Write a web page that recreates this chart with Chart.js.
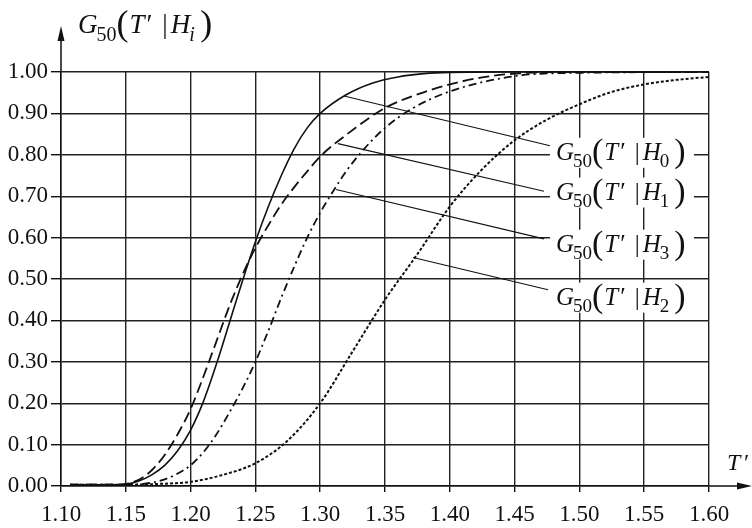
<!DOCTYPE html>
<html>
<head>
<meta charset="utf-8">
<script src="https://cdn.jsdelivr.net/npm/chart.js@4.4.0/dist/chart.umd.min.js"></script>
<style>
  html, body { margin: 0; padding: 0; background: #fff; }
</style>
</head>
<body>
<canvas id="chart" width="752" height="528"></canvas>
<script>
// G50(T'|H) curves for each hypothesis
const tH0 = [1.107, 1.14, 1.15, 1.16, 1.17, 1.18, 1.19, 1.20, 1.21, 1.22, 1.23, 1.24, 1.25, 1.26, 1.27, 1.28, 1.29, 1.30, 1.32, 1.34, 1.36, 1.38, 1.40, 1.45, 1.60];
const gH0 = [0.003, 0.003, 0.004, 0.012, 0.027, 0.05, 0.085, 0.135, 0.205, 0.295, 0.395, 0.495, 0.59, 0.675, 0.75, 0.815, 0.865, 0.90, 0.945, 0.973, 0.988, 0.996, 0.999, 1.0, 1.0];

const tH1 = [1.107, 1.14, 1.15, 1.16, 1.17, 1.18, 1.19, 1.20, 1.21, 1.22, 1.23, 1.24, 1.25, 1.26, 1.27, 1.28, 1.29, 1.30, 1.32, 1.35, 1.375, 1.40, 1.425, 1.45, 1.50, 1.60];
const gH1 = [0.003, 0.003, 0.005, 0.015, 0.038, 0.075, 0.125, 0.186, 0.265, 0.35, 0.435, 0.51, 0.575, 0.63, 0.68, 0.722, 0.76, 0.796, 0.848, 0.913, 0.946, 0.97, 0.987, 0.996, 1.0, 1.0];

const tH3 = [1.107, 1.15, 1.16, 1.17, 1.18, 1.19, 1.20, 1.21, 1.22, 1.23, 1.24, 1.25, 1.26, 1.27, 1.28, 1.29, 1.30, 1.31, 1.32, 1.33, 1.34, 1.35, 1.37, 1.40, 1.45, 1.50, 1.60];
const gH3 = [0.003, 0.003, 0.004, 0.008, 0.016, 0.03, 0.05, 0.082, 0.125, 0.178, 0.235, 0.30, 0.375, 0.455, 0.53, 0.60, 0.66, 0.712, 0.76, 0.80, 0.835, 0.865, 0.91, 0.953, 0.99, 0.998, 1.0];

const tH2 = [1.107, 1.15, 1.175, 1.20, 1.225, 1.25, 1.275, 1.30, 1.325, 1.35, 1.375, 1.40, 1.425, 1.45, 1.475, 1.50, 1.525, 1.55, 1.575, 1.60];
const gH2 = [0.003, 0.003, 0.005, 0.01, 0.027, 0.055, 0.11, 0.20, 0.325, 0.45, 0.56, 0.675, 0.765, 0.835, 0.885, 0.922, 0.952, 0.97, 0.981, 0.988];

const xTicks = [1.10, 1.15, 1.20, 1.25, 1.30, 1.35, 1.40, 1.45, 1.50, 1.55, 1.60];
const yTicks = [0, 0.1, 0.2, 0.3, 0.4, 0.5, 0.6, 0.7, 0.8, 0.9, 1.0];

// callouts: subscript, point on curve, end of leader, text origin (data units)
const callouts = [
  { sub: '0', from: [1.3184, 0.942], to: [1.4773, 0.822], at: [1.4819, 0.788] },
  { sub: '1', from: [1.3137, 0.827], to: [1.4727, 0.712], at: [1.4819, 0.692] },
  { sub: '3', from: [1.3122, 0.716], to: [1.4727, 0.597], at: [1.4819, 0.566] },
  { sub: '2', from: [1.3716, 0.552], to: [1.4758, 0.474], at: [1.4819, 0.438] }
];

const serif = "'Liberation Serif', 'Times New Roman', serif";
const ink = '#111';

const pts = (xs, ys) => xs.map((x, i) => ({ x: x, y: ys[i] }));

function curve(xs, ys, dash, width) {
  return {
    data: pts(xs, ys),
    borderColor: ink,
    borderWidth: width,
    borderDash: dash,
    pointRadius: 0,
    fill: false,
    cubicInterpolationMode: 'monotone',
    clip: false
  };
}

// G50(T'|H_sub) with italic letters, big parentheses
function drawG(ctx, x0, base, sub, s, italicSub) {
  let x = x0;
  const put = (txt, font, dy, gap) => {
    x += gap;
    ctx.font = font;
    ctx.fillText(txt, x, base + dy);
    x += ctx.measureText(txt).width;
  };
  const it = `italic ${s}px ${serif}`;
  const up = `${s}px ${serif}`;
  const ss = Math.round(s * 0.74);
  const par = `${Math.round(s * 1.35)}px ${serif}`;
  put('G', it, 0, 0);
  put('50', `${ss}px ${serif}`, s * 0.3, -1);
  put('(', par, s * 0.08, 0);
  put('T', it, 0, 1);
  put('\u2032', up, 0, 2);
  put('|', up, 0, s * 0.36);
  put('H', it, 0, s * 0.12);
  put(sub, italicSub ? `italic ${ss}px ${serif}` : `${ss}px ${serif}`, s * 0.3, -1);
  put(')', par, s * 0.08, s * 0.2);
}

const decorations = {
  id: 'decorations',
  afterDatasetsDraw(chart) {
    const ctx = chart.ctx;
    const xs = chart.scales.x, ys = chart.scales.y;
    const area = chart.chartArea;
    ctx.save();
    ctx.fillStyle = ink;
    ctx.strokeStyle = ink;

    // axis arrows
    ctx.lineWidth = 1.5;
    ctx.beginPath();
    ctx.moveTo(area.left, area.top);
    ctx.lineTo(area.left, 34);
    ctx.moveTo(area.right, area.bottom);
    ctx.lineTo(742, area.bottom);
    ctx.stroke();
    ctx.beginPath();
    ctx.moveTo(area.left, 26);
    ctx.lineTo(area.left - 3.5, 41);
    ctx.lineTo(area.left + 3.5, 41);
    ctx.closePath();
    ctx.fill();
    ctx.beginPath();
    ctx.moveTo(752, area.bottom);
    ctx.lineTo(737, area.bottom - 3.5);
    ctx.lineTo(737, area.bottom + 3.5);
    ctx.closePath();
    ctx.fill();

    // axis names
    ctx.textBaseline = 'alphabetic';
    drawG(ctx, 78, 33, 'i', 27, true);
    ctx.font = `italic 24px ${serif}`;
    ctx.fillText('T', 727, 470);
    ctx.font = `24px ${serif}`;
    ctx.fillText('\u2032', 744, 470);

    // leader lines and labels
    ctx.lineWidth = 1.1;
    callouts.forEach(c => {
      ctx.beginPath();
      ctx.moveTo(xs.getPixelForValue(c.from[0]), ys.getPixelForValue(c.from[1]));
      ctx.lineTo(xs.getPixelForValue(c.to[0]), ys.getPixelForValue(c.to[1]));
      ctx.stroke();
      const tx = xs.getPixelForValue(c.at[0]);
      const ty = ys.getPixelForValue(c.at[1]);
      ctx.fillStyle = '#fff';
      ctx.fillRect(tx - 6, ty - 22, 144, 30);
      ctx.fillStyle = ink;
      drawG(ctx, tx, ty, c.sub, 25, false);
    });
    ctx.restore();
  }
};

function build() {
  new Chart('chart', {
    type: 'line',
    data: {
      datasets: [
        curve(tH0, gH0, [], 1.6),
        curve(tH1, gH1, [11, 5], 1.8),
        curve(tH3, gH3, [8, 4, 2, 4], 1.8),
        curve(tH2, gH2, [3, 2], 2)
      ]
    },
    options: {
      responsive: false,
      animation: false,
      layout: { padding: { top: 72, right: 43, left: 0, bottom: 0 } },
      plugins: { legend: { display: false }, tooltip: { enabled: false } },
      scales: {
        x: {
          type: 'linear',
          min: 1.10,
          max: 1.60,
          afterFit: s => { s.height = 42; },
          afterBuildTicks: s => { s.ticks = xTicks.map(v => ({ value: v })); },
          ticks: {
            color: ink,
            padding: 9,
            maxRotation: 0,
            font: { family: serif, size: 23 },
            callback: v => v.toFixed(2)
          },
          grid: { color: '#222', lineWidth: 1.4, tickLength: 6, tickColor: ink },
          border: { color: ink, width: 1.5 }
        },
        y: {
          min: 0,
          max: 1,
          afterFit: s => { s.width = 61; },
          afterBuildTicks: s => { s.ticks = yTicks.map(v => ({ value: v })); },
          ticks: {
            color: ink,
            padding: 3,
            font: { family: serif, size: 23 },
            callback: v => v.toFixed(2)
          },
          grid: { color: '#222', lineWidth: 1.4, tickLength: 10, tickColor: ink },
          border: { color: ink, width: 1.5 }
        }
      }
    },
    plugins: [decorations]
  });
}

Promise.all([
  document.fonts.load("23px 'Liberation Serif'"),
  document.fonts.load("italic 25px 'Liberation Serif'")
]).then(build, build);
</script>
</body>
</html>
